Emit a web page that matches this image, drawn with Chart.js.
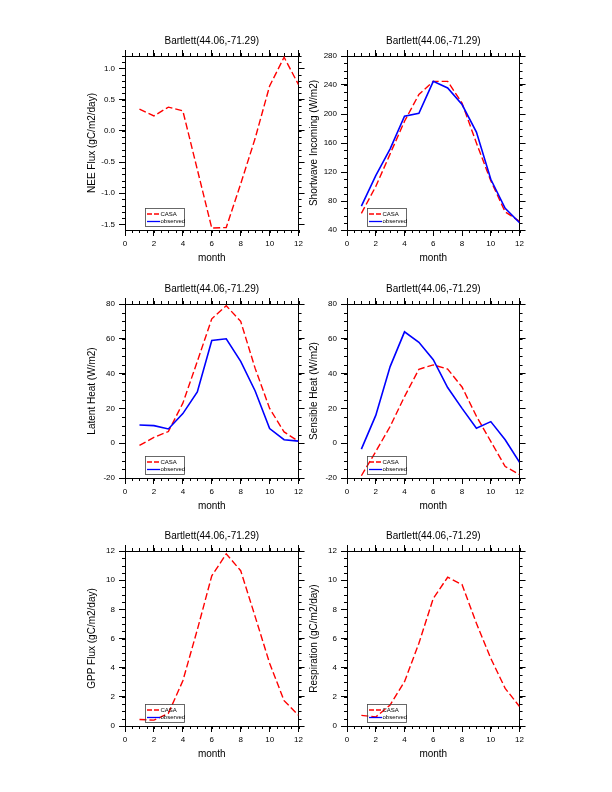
<!DOCTYPE html>
<html>
<head>
<meta charset="utf-8">
<script src="https://cdn.jsdelivr.net/npm/chart.js@4.4.1/dist/chart.umd.min.js"></script>
<style>
  body { margin: 0; background: #fff; width: 612px; height: 792px; position: relative; overflow: hidden; }
  canvas { position: absolute; }
</style>
</head>
<body>
<canvas id="nee" width="226" height="244" style="left:80px;top:26px"></canvas>
<canvas id="swin" width="225" height="244" style="left:302px;top:26px"></canvas>
<canvas id="latent" width="226" height="244" style="left:80px;top:274px"></canvas>
<canvas id="sensible" width="225" height="244" style="left:302px;top:274px"></canvas>
<canvas id="gpp" width="226" height="245" style="left:80px;top:521px"></canvas>
<canvas id="resp" width="225" height="245" style="left:302px;top:521px"></canvas>
<script>
// monthly means, site Bartlett
var months = [1, 2, 3, 4, 5, 6, 7, 8, 9, 10, 11, 12];
var monthTicks = [0, 2, 4, 6, 8, 10, 12];
var siteTitle = "Bartlett(44.06,-71.29)";
var legendLabels = ["CASA", "observed"];

var neeCasa = [0.35, 0.24, 0.38, 0.32, -0.62, -1.56, -1.55, -0.85, -0.12, 0.72, 1.18, 0.74];
var neeTicks = [-1.5, -1.0, -0.5, 0.0, 0.5, 1.0];

var swCasa = [63, 100, 145, 190, 227, 245, 245, 215, 160, 108, 65, 52];
var swObs = [73, 115, 152, 197, 201, 245, 236, 213, 175, 110, 70, 50];
var swTicks = [40, 80, 120, 160, 200, 240, 280];

var leCasa = [-1.3, 3.4, 6.7, 23, 47, 71.5, 79, 70, 43, 20, 6.5, 1];
var leObs = [10.5, 10.1, 8.2, 17, 29.5, 59, 60, 47, 30, 8.4, 2, 1.2];
var heatTicks = [-20, 0, 20, 40, 60, 80];

var shCasa = [-18.7, -4.8, 9.6, 26.8, 42.5, 45, 42.6, 32.3, 15.5, 1, -13.4, -18];
var shObs = [-3.4, 16, 44, 64, 58, 48, 32, 20, 8.6, 12.4, 2, -11];

var gppCasa = [0.45, 0.4, 0.87, 3.1, 6.6, 10.3, 11.8, 10.65, 7.5, 4.3, 1.74, 0.73];
var respCasa = [0.73, 0.62, 1.44, 3.04, 5.67, 8.75, 10.2, 9.7, 7.04, 4.64, 2.58, 1.33];
var carbonTicks = [0, 2, 4, 6, 8, 10, 12];

var FONT = "'Liberation Sans', Helvetica, Arial, sans-serif";

// small tick marks between the labelled ones, on all four sides
var minorTicks = {
    id: "minorTicks",
    afterDraw: function (chart, args, opts) {
        var ctx = chart.ctx, a = chart.chartArea;
        var xs = chart.scales.x, ys = chart.scales.y;
        ctx.save();
        ctx.strokeStyle = "#000";
        ctx.lineWidth = 1;
        ctx.beginPath();
        var v, p;
        for (v = Math.ceil(xs.min / opts.xStep) * opts.xStep; v <= xs.max + 1e-9; v += opts.xStep) {
            p = Math.round(xs.getPixelForValue(v)) + 0.5;
            ctx.moveTo(p, a.bottom); ctx.lineTo(p, a.bottom + 3);
            ctx.moveTo(p, a.top); ctx.lineTo(p, a.top - 3);
        }
        for (v = Math.ceil(ys.min / opts.yStep - 1e-9) * opts.yStep; v <= ys.max + 1e-9; v += opts.yStep) {
            p = Math.round(ys.getPixelForValue(v)) + 0.5;
            ctx.moveTo(a.left, p); ctx.lineTo(a.left - 3, p);
            ctx.moveTo(a.right, p); ctx.lineTo(a.right + 3, p);
        }
        ctx.stroke();
        ctx.restore();
    }
};

// the little boxed legend in the lower left of each plot
var boxLegend = {
    id: "boxLegend",
    afterDatasetsDraw: function (chart) {
        var ctx = chart.ctx, a = chart.chartArea;
        var x0 = Math.round(a.left) + 20, y0 = Math.round(a.bottom) - 22;
        ctx.save();
        ctx.strokeStyle = "#444";
        ctx.lineWidth = 0.8;
        ctx.strokeRect(x0 + 0.5, y0 + 0.5, 39, 18);
        ctx.lineWidth = 1.3;
        ctx.strokeStyle = "#ff0000";
        ctx.setLineDash([5, 2]);
        ctx.beginPath(); ctx.moveTo(x0 + 2, y0 + 6); ctx.lineTo(x0 + 15, y0 + 6); ctx.stroke();
        ctx.setLineDash([]);
        ctx.strokeStyle = "#0000ff";
        ctx.beginPath(); ctx.moveTo(x0 + 2, y0 + 13.5); ctx.lineTo(x0 + 15, y0 + 13.5); ctx.stroke();
        ctx.fillStyle = "#000";
        ctx.font = "6px " + FONT;
        ctx.textBaseline = "middle";
        ctx.fillText(legendLabels[0], x0 + 15.5, y0 + 6);
        ctx.fillText(legendLabels[1], x0 + 15.5, y0 + 13.5);
        ctx.restore();
    }
};

function pairs(values) {
    return months.map(function (m, i) { return { x: m, y: values[i] }; });
}

function setTicks(list) {
    return function (scale) {
        scale.ticks = list.map(function (v) { return { value: v }; });
    };
}

function initializePanel(id, yTitle, yMin, yMax, yTicks, yMinor, decimals, casa, observed) {
    var datasets = [];
    if (observed) {
        datasets.push({
            label: legendLabels[1],
            data: pairs(observed),
            borderColor: "#0000ff",
            borderWidth: 1.6,
            pointRadius: 0,
            fill: false,
            tension: 0
        });
    }
    datasets.push({
        label: legendLabels[0],
        data: pairs(casa),
        borderColor: "#ff0000",
        borderWidth: 1.4,
        borderDash: [7, 3],
        pointRadius: 0,
        fill: false,
        tension: 0
    });

    var grid = { drawOnChartArea: false, tickLength: 6, tickColor: "#000", tickWidth: 1 };
    var border = { color: "#000", width: 1 };
    var tickFont = { size: 8, family: FONT };

    var ctx = document.getElementById(id).getContext("2d");
    return new Chart(ctx, {
        type: "line",
        data: { datasets: datasets },
        options: {
            responsive: false,
            animation: false,
            layout: { padding: 0 },
            scales: {
                x: {
                    type: "linear", position: "bottom", min: 0, max: 12,
                    afterBuildTicks: setTicks(monthTicks),
                    afterFit: function (s) { s.height = 40; },
                    grid: grid, border: border,
                    ticks: { font: tickFont, color: "#000", padding: 3, maxRotation: 0, autoSkip: false },
                    title: { display: true, text: "month", color: "#000", font: { size: 10, family: FONT }, padding: { top: 0, bottom: 6 } }
                },
                x2: {
                    type: "linear", position: "top", min: 0, max: 12,
                    afterBuildTicks: setTicks(monthTicks),
                    afterFit: function (s) { s.height = 6; },
                    grid: grid, border: border,
                    ticks: { display: false }
                },
                y: {
                    type: "linear", position: "left", min: yMin, max: yMax,
                    afterBuildTicks: setTicks(yTicks),
                    afterFit: function (s) { s.width = 45; },
                    grid: grid, border: border,
                    ticks: {
                        font: tickFont, color: "#000", padding: 4, autoSkip: false,
                        callback: function (v) { return Number(v).toFixed(decimals); }
                    },
                    title: { display: true, text: yTitle, color: "#000", font: { size: 10, family: FONT }, padding: { top: 6, bottom: 0 } }
                },
                y2: {
                    type: "linear", position: "right", min: yMin, max: yMax,
                    afterBuildTicks: setTicks(yTicks),
                    afterFit: function (s) { s.width = 6; },
                    grid: grid, border: border,
                    ticks: { display: false }
                }
            },
            plugins: {
                legend: { display: false },
                tooltip: { enabled: false },
                title: {
                    display: true, text: siteTitle, fullSize: false, color: "#000",
                    font: { size: 10, family: FONT, weight: "normal" },
                    padding: { top: 9, bottom: 3 }
                },
                minorTicks: { xStep: 0.5, yStep: yMinor }
            }
        },
        plugins: [minorTicks, boxLegend]
    });
}

initializePanel("nee", "NEE Flux (gC/m2/day)", -1.59, 1.2, neeTicks, 0.1, 1, neeCasa, null);
initializePanel("swin", "Shortwave Incoming (W/m2)", 40, 280, swTicks, 10, 0, swCasa, swObs);
initializePanel("latent", "Latent Heat (W/m2)", -20, 80, heatTicks, 5, 0, leCasa, leObs);
initializePanel("sensible", "Sensible Heat (W/m2)", -20, 80, heatTicks, 5, 0, shCasa, shObs);
initializePanel("gpp", "GPP Flux (gC/m2/day)", 0, 12, carbonTicks, 0.5, 0, gppCasa, null);
initializePanel("resp", "Respiration (gC/m2/day)", 0, 12, carbonTicks, 0.5, 0, respCasa, null);
</script>
</body>
</html>
